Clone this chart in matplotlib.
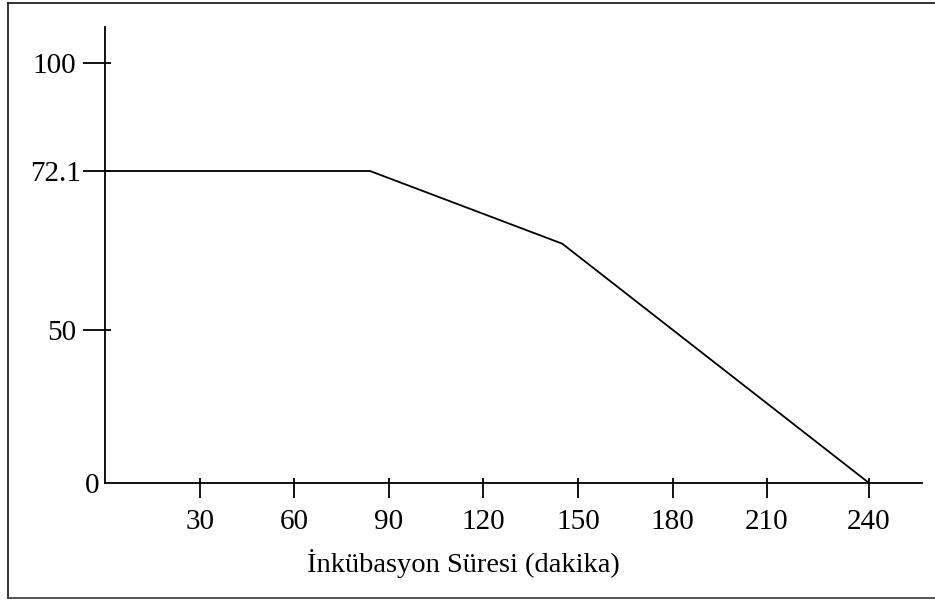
import matplotlib
matplotlib.use("Agg")
import matplotlib.pyplot as plt
import numpy as np
from matplotlib.lines import Line2D

# data
sure = [0, 84, 145, 240]          # dakika
deger = [72.1, 72.1, 62, 0]
x_ticks = [30, 60, 90, 120, 150, 180, 210, 240]
y_ticks = [0, 50, 72.1, 100]
y_labels = ["0", "50", "72.1", "100"]
x_label = "İnkübasyon Süresi (dakika)"

plt.rcParams["font.family"] = ["Liberation Serif", "DejaVu Serif"]

# the original axes are drawn schematically (not to scale), so map values
# onto the axis piecewise-linearly
Y_V = [-100, 0, 50, 72.1, 100, 200]
Y_P = [-306, 0, 153, 312, 420, 807.1]
X_V = [-100, 0, 210, 240, 400]
X_P = [-315.1, 0, 661.7, 763.7, 1267.9]


def _fy(v):
    return np.interp(v, Y_V, Y_P)


def _iy(p):
    return np.interp(p, Y_P, Y_V)


def _fx(v):
    return np.interp(v, X_V, X_P)


def _ix(p):
    return np.interp(p, X_P, X_V)


fig = plt.figure(figsize=(9.35, 6.0), dpi=100)
ax = fig.add_axes([0.1126, 0.195, 0.8735, 0.76])
ax.set_xscale("function", functions=(_fx, _ix))
ax.set_yscale("function", functions=(_fy, _iy))

ax.plot(sure, deger, color="black", linewidth=1.3, solid_joinstyle="miter")

ax.set_xlim(0, 256.8)
ax.set_ylim(0, 109.3)

for side in ("top", "right"):
    ax.spines[side].set_visible(False)
for side in ("left", "bottom"):
    ax.spines[side].set_linewidth(1.3)

# ticks cross the axis unevenly: long outer part (major) + short inner part (minor)
ax.xaxis.remove_overlapping_locs = False
ax.yaxis.remove_overlapping_locs = False
ax.set_xticks(x_ticks)
ax.set_xticklabels([str(t) for t in x_ticks])
ax.set_xticks(x_ticks, minor=True)
ax.set_yticks(y_ticks)
ax.set_yticklabels(y_labels)
ax.set_yticks(y_ticks[1:], minor=True)
ax.tick_params(axis="x", which="major", direction="out", length=10.8, width=1.3,
               pad=8, labelsize=21)
ax.tick_params(axis="x", which="minor", direction="in", length=3.6, width=1.3,
               labelbottom=False)
ax.tick_params(axis="y", which="major", direction="out", length=15.8, width=1.3,
               pad=5, labelsize=21)
ax.tick_params(axis="y", which="minor", direction="in", length=4.3, width=1.3,
               labelleft=False)
yt = ax.yaxis.get_major_ticks()
# no tick mark at the origin, only the "0"
yt[0]._apply_params(size=0, pad=4.3)
# "72.1" sits almost against its tick in the original
yt[2]._apply_params(pad=1.5)

ax.set_xlabel(x_label, fontsize=20.5)
ax.xaxis.set_label_coords(0.438, -0.146)

# frame round the picture (its right edge falls outside the image)
fig.add_artist(Line2D([0.0086, 0.0086], [0.0033, 0.995], color="#222222",
                      linewidth=1.3, transform=fig.transFigure))
fig.add_artist(Line2D([0.0086, 1.0], [0.995, 0.995], color="#222222",
                      linewidth=1.3, transform=fig.transFigure))
fig.add_artist(Line2D([0.0086, 1.0], [0.0033, 0.0033], color="#444444",
                      linewidth=1.3, transform=fig.transFigure))

fig.savefig("out.png", dpi=100)
plt.close(fig)
